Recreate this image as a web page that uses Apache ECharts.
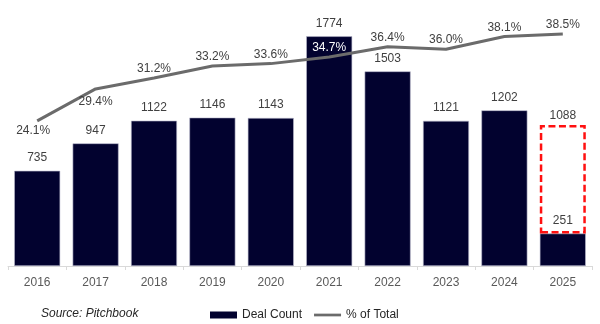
<!DOCTYPE html>
<html>
<head>
<meta charset="utf-8">
<script src="https://cdn.jsdelivr.net/npm/echarts@6/dist/echarts.min.js"></script>
<style>html,body{margin:0;padding:0;background:#fff}#c{width:600px;height:324px}</style>
</head>
<body>
<div id="c"></div>
<script>
const years = ['2016','2017','2018','2019','2020','2021','2022','2023','2024','2025'];
const dealCount = [735, 947, 1122, 1146, 1143, 1774, 1503, 1121, 1202, 251];
const projected = [null, null, null, null, null, null, null, null, null, 1088];
const pctOfTotal = [24.1, 29.4, 31.2, 33.2, 33.6, 34.7, 36.4, 36.0, 38.1, 38.5];

const FONT = 'Liberation Sans, Arial, sans-serif';
const chart = echarts.init(document.getElementById('c'), null, {renderer: 'canvas'});

const pctData = pctOfTotal.map((v, i) => {
  const item = {value: v};
  if (i === 0) item.label = {position: 'bottom', distance: 4, offset: [-4, 0]};
  else if (i === 1) item.label = {position: 'bottom', distance: 7};
  else if (i === 5) item.label = {color: '#ffffff', distance: 3};
  return item;
});

chart.setOption({
  backgroundColor: '#ffffff',
  animation: false,
  textStyle: {fontFamily: FONT},
  title: {
    text: 'Source: Pitchbook',
    left: 36, top: 303,
    textStyle: {fontFamily: FONT, fontSize: 12, fontStyle: 'italic', fontWeight: 'normal', color: '#262626'}
  },
  legend: {
    data: [
      {name: 'Deal Count', icon: 'rect', itemStyle: {borderWidth: 0}},
      {name: '% of Total', icon: 'path://M0,0 L30,0 L30,3 L0,3 Z'}
    ],
    left: 205, top: 304,
    itemGap: 12, itemWidth: 27, itemHeight: 7,
    textStyle: {fontFamily: FONT, fontSize: 12, color: '#262626'}
  },
  grid: {left: 8, right: 8, top: 7, bottom: 58, containLabel: false},
  xAxis: {
    type: 'category',
    data: years,
    axisLine: {show: true, lineStyle: {color: '#d9d9d9', width: 1}},
    axisTick: {show: true, alignWithLabel: false, length: 4, lineStyle: {color: '#d9d9d9'}},
    axisLabel: {fontFamily: FONT, fontSize: 12, color: '#595959', margin: 11}
  },
  yAxis: [
    {type: 'value', min: 0, max: 2000, show: false},
    {type: 'value', min: 0, max: 43, show: false}
  ],
  series: [
    {
      name: 'Deal Count',
      type: 'bar',
      stack: 'deals',
      data: dealCount,
      barWidth: 46,
      itemStyle: {color: '#02022f', borderColor: '#b8b8cc', borderWidth: 0.6},
      label: {show: true, position: 'top', distance: 7, fontFamily: FONT, fontSize: 12, color: '#404040'}
    },
    {
      name: 'Projected',
      type: 'bar',
      stack: 'deals',
      data: projected.map((p, i) => p == null ? null : p - dealCount[i]),
      barWidth: 46,
      itemStyle: {color: 'rgba(255,255,255,0)', borderColor: '#ff1010', borderWidth: 2.5, borderType: [7, 3.5]},
      label: {
        show: true, position: 'top', distance: 3, fontFamily: FONT, fontSize: 12, color: '#404040',
        formatter: p => projected[p.dataIndex]
      },
      z: 3
    },
    {
      name: '% of Total',
      type: 'line',
      yAxisIndex: 1,
      data: pctData,
      symbol: 'circle',
      symbolSize: 0.01,
      showSymbol: true,
      lineStyle: {color: '#6b6b6b', width: 3},
      itemStyle: {color: '#6b6b6b'},
      label: {
        show: true, position: 'top', distance: 3, fontFamily: FONT, fontSize: 12, color: '#404040',
        formatter: p => p.value.toFixed(1) + '%'
      },
      z: 4
    }
  ]
});
</script>
</body>
</html>
